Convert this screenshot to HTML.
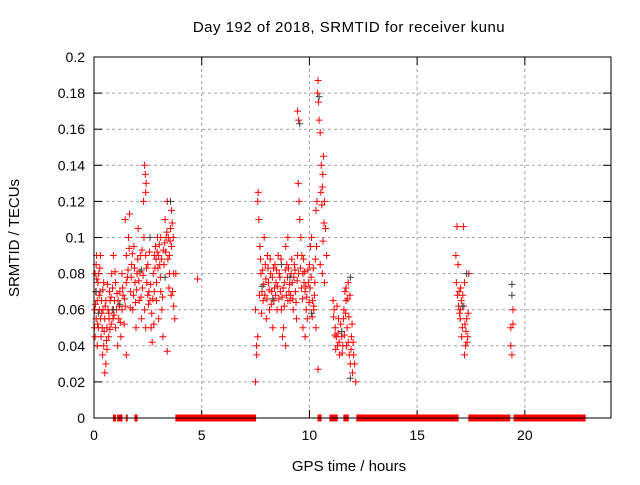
<!DOCTYPE html>
<html><head><meta charset="utf-8"><style>
body{margin:0;background:#fff;}
svg text{font-family:"Liberation Sans",sans-serif;font-size:14px;fill:#000;}
</style></head><body>
<svg id="chart" width="640" height="480" xmlns="http://www.w3.org/2000/svg">
<rect width="640" height="480" fill="#fff"/>
<text x="349" y="32" text-anchor="middle" style="font-size:15px;letter-spacing:0.5px">Day 192 of 2018, SRMTID for receiver kunu</text>
<text x="349" y="471" text-anchor="middle" style="font-size:15px">GPS time / hours</text>
<text x="0" y="0" text-anchor="middle" transform="translate(19,238) rotate(-90)" style="font-size:15px">SRMTID / TECUs</text>
<g id="grid"></g>
<g id="ticks"></g>
<g id="red"></g>
<g id="dark"></g>
<rect x="94" y="57" width="517" height="361" fill="none" stroke="#000" stroke-width="1"/>
</svg>
<script>
const xTicks=[0,5,10,15,20];
const yTicks=[0,0.02,0.04,0.06,0.08,0.1,0.12,0.14,0.16,0.18,0.2];
const yTickLabels=["0","0.02","0.04","0.06","0.08","0.1","0.12","0.14","0.16","0.18","0.2"];
const redPoints="0.02:0.05,0.03:0.06,0.05:0.08,0.05:0.045,0.08:0.07,0.1:0.085,0.1:0.055,0.12:0.09,0.15:0.065,0.15:0.04,0.18:0.075,0.2:0.05,0.22:0.08,0.25:0.06,0.28:0.07,0.3:0.055,0.3:0.09,0.33:0.045,0.35:0.065,0.38:0.05,0.4:0.035,0.42:0.06,0.45:0.04,0.45:0.075,0.5:0.025,0.5:0.055,0.55:0.03,0.55:0.065,0.6:0.038,0.6:0.05,0.65:0.06,0.68:0.045,0.7:0.055,0.72:0.07,0.75:0.065,0.8:0.052,0.82:0.08,0.85:0.06,0.88:0.055,0.9:0.09,0.95:0.065,1.0:0.05,1.0:0.075,1.05:0.06,1.1:0.04,1.12:0.065,1.15:0.055,1.2:0.07,1.25:0.045,1.3:0.06,1.3:0.08,1.35:0.068,1.4:0.052,1.45:0.062,1.5:0.075,1.5:0.035,1.45:0.11,1.5:0.09,1.55:0.078,1.6:0.1,1.65:0.113,1.7:0.07,1.75:0.085,1.8:0.06,1.85:0.095,1.9:0.075,1.95:0.05,2.0:0.08,2.05:0.105,2.1:0.065,2.15:0.09,2.2:0.055,2.25:0.072,2.35:0.14,2.38:0.135,2.4:0.125,2.42:0.13,2.3:0.12,2.32:0.1,2.4:0.09,2.45:0.075,2.5:0.068,2.35:0.06,2.4:0.05,2.5:0.085,2.55:0.07,2.6:0.065,2.65:0.05,2.7:0.042,2.75:0.08,2.8:0.09,2.85:0.095,2.9:0.075,2.95:0.1,3.0:0.09,3.05:0.085,3.1:0.1,3.15:0.06,3.2:0.045,3.0:0.055,2.9:0.065,3.1:0.07,2.8:0.07,3.25:0.085,3.3:0.11,3.35:0.1,3.4:0.12,3.45:0.1,3.5:0.08,3.55:0.105,3.6:0.115,3.65:0.07,3.7:0.062,3.4:0.037,3.5:0.09,3.6:0.095,3.7:0.08,3.75:0.055,3.8:0.08,4.8:0.077,7.5:0.06,7.55:0.04,7.6:0.12,7.62:0.125,7.65:0.11,7.7:0.095,7.75:0.08,7.8:0.07,7.85:0.065,7.9:0.1,7.95:0.085,8.0:0.055,8.05:0.09,8.1:0.075,8.15:0.06,8.2:0.08,8.25:0.07,8.3:0.05,8.35:0.065,8.4:0.085,8.45:0.075,8.5:0.06,7.5:0.02,7.55:0.035,7.6:0.045,8.55:0.09,8.6:0.08,8.65:0.07,8.7:0.06,8.75:0.045,8.8:0.05,8.85:0.075,8.9:0.095,8.95:0.085,9.0:0.1,9.05:0.07,9.1:0.065,9.15:0.08,9.2:0.075,9.25:0.06,9.3:0.085,9.35:0.07,9.4:0.055,9.45:0.09,9.5:0.08,8.9:0.04,9.0:0.065,9.45:0.17,9.5:0.165,9.48:0.13,9.52:0.12,9.55:0.11,9.6:0.1,9.65:0.09,9.7:0.08,9.75:0.075,9.8:0.07,9.85:0.06,9.9:0.055,9.95:0.075,10.0:0.085,9.7:0.05,9.8:0.045,10.05:0.095,10.1:0.1,10.15:0.065,10.2:0.06,10.25:0.075,10.3:0.115,10.35:0.12,10.38:0.18,10.4:0.187,10.42:0.175,10.45:0.165,10.5:0.158,10.55:0.14,10.6:0.128,10.62:0.135,10.65:0.145,10.7:0.12,10.75:0.105,10.8:0.09,10.5:0.085,10.6:0.08,10.7:0.075,10.4:0.027,10.3:0.05,10.2:0.062,11.1:0.065,11.15:0.06,11.2:0.05,11.25:0.045,11.3:0.04,11.35:0.055,11.4:0.035,11.5:0.045,11.55:0.04,11.6:0.06,11.65:0.07,11.7:0.065,11.75:0.05,11.8:0.042,11.85:0.035,11.9:0.03,11.95:0.045,12.0:0.025,12.05:0.035,12.1:0.03,12.15:0.02,11.8:0.075,11.7:0.072,16.8:0.09,16.85:0.106,16.9:0.085,16.95:0.07,17.0:0.06,17.05:0.065,17.1:0.05,17.15:0.106,17.2:0.075,17.25:0.04,17.3:0.055,17.35:0.045,17.4:0.08,17.0:0.055,17.2:0.035,19.35:0.05,19.4:0.035,19.45:0.06,19.35:0.04,19.45:0.052";
const redExtra="0.07:0.063,0.13:0.077,0.17:0.052,0.24:0.068,0.27:0.083,0.36:0.058,0.41:0.071,0.47:0.048,0.52:0.062,0.58:0.043,0.63:0.074,0.69:0.058,0.74:0.049,0.79:0.067,0.86:0.072,0.93:0.057,0.98:0.081,1.07:0.069,1.17:0.062,1.22:0.053,1.33:0.072,1.42:0.066,1.58:0.082,1.63:0.094,1.68:0.061,1.73:0.078,1.78:0.091,1.83:0.068,1.88:0.083,1.93:0.064,1.98:0.071,2.03:0.088,2.08:0.076,2.13:0.081,2.18:0.067,2.23:0.093,2.28:0.079,2.44:0.083,2.53:0.063,2.58:0.092,2.63:0.074,2.68:0.058,2.73:0.066,2.78:0.052,2.83:0.083,2.88:0.088,2.93:0.092,2.97:0.083,3.03:0.096,3.08:0.078,3.13:0.088,3.18:0.067,3.22:0.093,3.28:0.097,3.33:0.092,3.38:0.103,3.43:0.088,3.48:0.072,3.53:0.098,3.58:0.068,3.63:0.108,3.68:0.1,7.68:0.068,7.73:0.088,7.78:0.058,7.83:0.082,7.88:0.074,7.93:0.068,7.98:0.077,8.03:0.066,8.08:0.083,8.13:0.071,8.18:0.088,8.23:0.063,8.28:0.078,8.33:0.083,8.38:0.072,8.43:0.068,8.48:0.082,8.53:0.073,8.58:0.066,8.63:0.078,8.68:0.088,8.73:0.067,8.78:0.072,8.83:0.062,8.88:0.082,8.93:0.068,8.98:0.078,9.03:0.083,9.08:0.074,9.13:0.068,9.18:0.088,9.23:0.066,9.28:0.078,9.33:0.082,9.38:0.064,9.43:0.076,9.58:0.083,9.63:0.072,9.68:0.066,9.73:0.088,9.78:0.081,9.83:0.073,9.88:0.067,9.93:0.082,9.98:0.064,10.03:0.072,10.08:0.078,10.13:0.056,10.18:0.083,10.23:0.068,10.28:0.088,10.33:0.095,10.53:0.125,10.58:0.118,10.63:0.098,10.68:0.108,11.12:0.056,11.18:0.046,11.22:0.038,11.28:0.062,11.33:0.047,11.38:0.042,11.45:0.052,11.52:0.036,11.58:0.055,11.62:0.046,11.68:0.058,11.72:0.04,11.78:0.066,11.83:0.056,11.88:0.068,11.93:0.038,11.98:0.052,12.03:0.042,16.82:0.075,16.87:0.068,16.92:0.062,16.97:0.058,17.02:0.072,17.07:0.045,17.12:0.068,17.17:0.062,17.22:0.052,17.27:0.048,17.32:0.042,17.37:0.058";
const darkPoints="0.1:0.07,2.6:0.1,3.55:0.12,9.55:0.163,10.45:0.178,19.4:0.074,19.4:0.068,11.9:0.078,11.9:0.022,17.3:0.08,0.9:0.06,8.7:0.085,0.2:0.058,1.2:0.063,2.2:0.082,3.3:0.078,7.8:0.073,8.3:0.066,9.1:0.078,10.1:0.058,11.5:0.048,17.1:0.062";
const zeroRanges=[[0.9,1.0],[1.1,1.3],[1.5,1.55],[1.9,2.0],[3.8,7.5],[10.4,10.55],[10.95,11.3],[11.6,11.8],[12.2,16.9],[17.4,19.3],[19.5,22.8]];

const X0=94,X1=611,Y0=418,Y1=57,XMAX=24,YMAX=0.2;
const sx=t=>X0+(X1-X0)*t/XMAX;
const sy=v=>Y0-(Y0-Y1)*v/YMAX;
const NS="http://www.w3.org/2000/svg";
function mk(tag,attrs,parent){const e=document.createElementNS(NS,tag);for(const k in attrs)e.setAttribute(k,attrs[k]);parent.appendChild(e);return e;}
const grid=document.getElementById('grid'),ticks=document.getElementById('ticks');
yTicks.forEach((v,i)=>{const y=sy(v);
 if(i>0&&i<yTicks.length-1){const l=mk('line',{x1:X0,x2:X1,y1:y,y2:y,stroke:'#a0a0a0','stroke-dasharray':'3,3'},grid);
 
 }
 mk('line',{x1:X0,x2:X0+8,y1:y,y2:y,stroke:'#000'},ticks);mk('line',{x1:X1,x2:X1-8,y1:y,y2:y,stroke:'#000'},ticks);
 const t=mk('text',{x:X0-9,y:y+5,'text-anchor':'end'},ticks);t.textContent=yTickLabels[i];
 
 });
xTicks.forEach(v=>{const x=sx(v);
 if(v>0){const l=mk('line',{x1:x,x2:x,y1:Y1,y2:Y0,stroke:'#a0a0a0','stroke-dasharray':'3,3'},grid);
 
 }
 mk('line',{x1:x,x2:x,y1:Y0,y2:Y0-8,stroke:'#000'},ticks);mk('line',{x1:x,x2:x,y1:Y1,y2:Y1+8,stroke:'#000'},ticks);
 const t=mk('text',{x:x,y:Y0+22,'text-anchor':'middle'},ticks);t.textContent=String(v);
 
 });
function plus(g,t,v,c){const x=sx(t),y=sy(v);
 const p=mk('path',{d:`M${x-3.5},${y}H${x+3.5}M${x},${y-3.5}V${y+3.5}`,stroke:c,'stroke-width':1,fill:'none'},g);
 
 }
const red=document.getElementById('red'),dark=document.getElementById('dark');
(redPoints+","+redExtra).split(',').forEach(s=>{const [t,v]=s.split(':').map(Number);plus(red,t,v,'#ff0000');});
zeroRanges.forEach(([a,b])=>{for(let t=a;t<=b+1e-9;t+=0.02)plus(red,t,0,'#ff0000');});
darkPoints.split(',').forEach(s=>{const [t,v]=s.split(':').map(Number);plus(dark,t,v,'#404040');});
</script>
</body></html>
